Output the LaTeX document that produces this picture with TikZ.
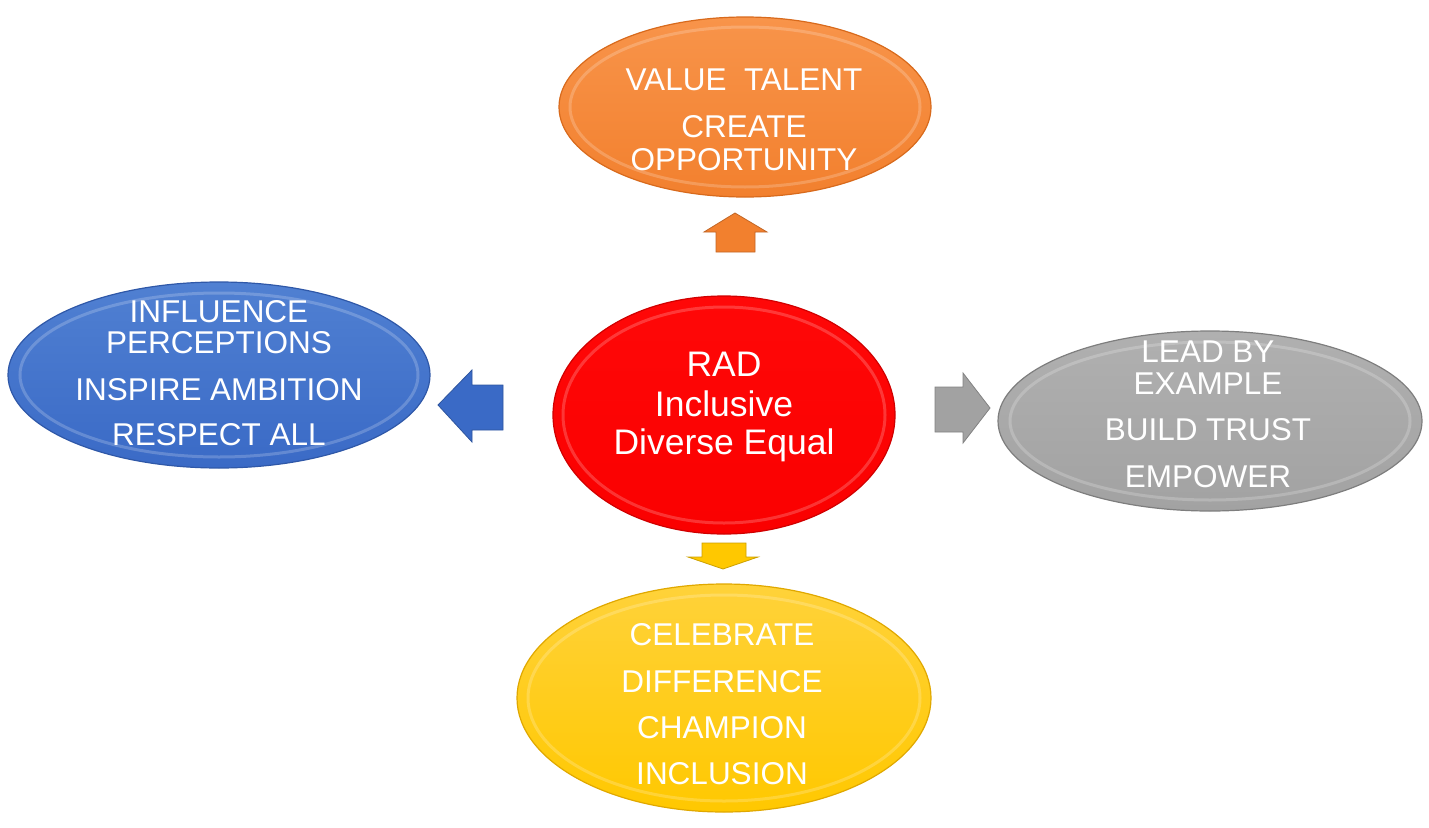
\documentclass[tikz,border=0pt]{standalone}
\usepackage{fontspec}
\setmainfont{Liberation Sans}
\usetikzlibrary{shapes.geometric}
\definecolor{orA}{HTML}{F8944A}
\definecolor{orB}{HTML}{F2802E}
\definecolor{orR}{HTML}{D86A1C}
\definecolor{blA}{HTML}{5080D2}
\definecolor{blB}{HTML}{3A6AC6}
\definecolor{blR}{HTML}{2F58A8}
\definecolor{grA}{HTML}{B0B0B0}
\definecolor{grB}{HTML}{A2A2A2}
\definecolor{grR}{HTML}{7E7E7E}
\definecolor{rdA}{HTML}{FF0808}
\definecolor{rdB}{HTML}{FA0000}
\definecolor{rdR}{HTML}{D00000}
\definecolor{ylA}{HTML}{FFD23A}
\definecolor{ylB}{HTML}{FFC800}
\definecolor{ylR}{HTML}{E0A800}
\tikzset{
  blob/.style={ellipse, inner sep=0pt, draw=#1R, line width=1.2pt, top color=#1A, bottom color=#1B},
  ring/.style={ellipse, inner sep=0pt, draw=white, draw opacity=0.2, line width=3pt},
  txt/.style={text=white, font=\fontsize{31.5}{33}\selectfont, anchor=base, inner sep=0pt},
  bigtxt/.style={text=white, font=\fontsize{35.5}{38}\selectfont, anchor=base, inner sep=0pt},
  blockarrow/.style={fill=#1, draw=#1!80!black, line width=0.8pt, line join=miter},
}
\begin{document}
\begin{tikzpicture}[x=1pt,y=-1pt]
\useasboundingbox (0,0) rectangle (1429,827);
% ellipses
\node[blob=or, minimum width=372pt, minimum height=180pt] (top) at (745,107) {};
\node[ring, minimum width=350pt, minimum height=160pt] (topring) at (745,107) {};
\node[blob=bl, minimum width=422pt, minimum height=186pt] (left) at (219,375) {};
\node[ring, minimum width=398pt, minimum height=164pt] (leftring) at (219,375) {};
\node[blob=gr, minimum width=424pt, minimum height=180pt] (right) at (1210,421) {};
\node[ring, minimum width=400pt, minimum height=158pt] (rightring) at (1210,421) {};
\node[blob=rd, minimum width=342pt, minimum height=238pt] (mid) at (724,415) {};
\node[ring, minimum width=322pt, minimum height=216pt] (midring) at (724,415) {};
\node[blob=yl, minimum width=414pt, minimum height=228pt] (bot) at (724,698) {};
\node[ring, minimum width=392pt, minimum height=206pt] (botring) at (724,698) {};
% block arrows
\draw[blockarrow=orB] (716,252) -- (716,232) -- (704,232) -- (735,213) -- (767,232) -- (755,232) -- (755,252) -- cycle;
\draw[blockarrow=blB] (503,385) -- (472,385) -- (472,370) -- (438,405) -- (472,442) -- (472,430) -- (503,430) -- cycle;
\draw[blockarrow=grB] (935,387) -- (963,387) -- (963,373) -- (990,408) -- (963,443) -- (963,432) -- (935,432) -- cycle;
\draw[blockarrow=ylB] (702,543) -- (746,543) -- (746,557) -- (758,557) -- (723,569) -- (688,557) -- (702,557) -- cycle;
% texts
\node[txt] (t1) at (744,90) {VALUE\ \ TALENT};
\node[txt] (t2) at (744,137) {CREATE};
\node[txt] (t3) at (744,170) {OPPORTUNITY};
\node[txt] (l1) at (219,322) {INFLUENCE};
\node[txt] (l2) at (219,353) {PERCEPTIONS};
\node[txt] (l3) at (219,400) {INSPIRE AMBITION};
\node[txt] (l4) at (219,445) {RESPECT ALL};
\node[txt] (r1) at (1208,362) {LEAD BY};
\node[txt] (r2) at (1208,394) {EXAMPLE};
\node[txt] (r3) at (1208,440) {BUILD TRUST};
\node[txt] (r4) at (1208,487) {EMPOWER};
\node[bigtxt] (m1) at (724,376) {RAD};
\node[bigtxt] (m2) at (724,416) {Inclusive};
\node[bigtxt] (m3) at (724,454) {Diverse Equal};
\node[txt] (b1) at (722,645) {CELEBRATE};
\node[txt] (b2) at (722,692) {DIFFERENCE};
\node[txt] (b3) at (722,738) {CHAMPION};
\node[txt] (b4) at (722,784) {INCLUSION};
\end{tikzpicture}
\end{document}
